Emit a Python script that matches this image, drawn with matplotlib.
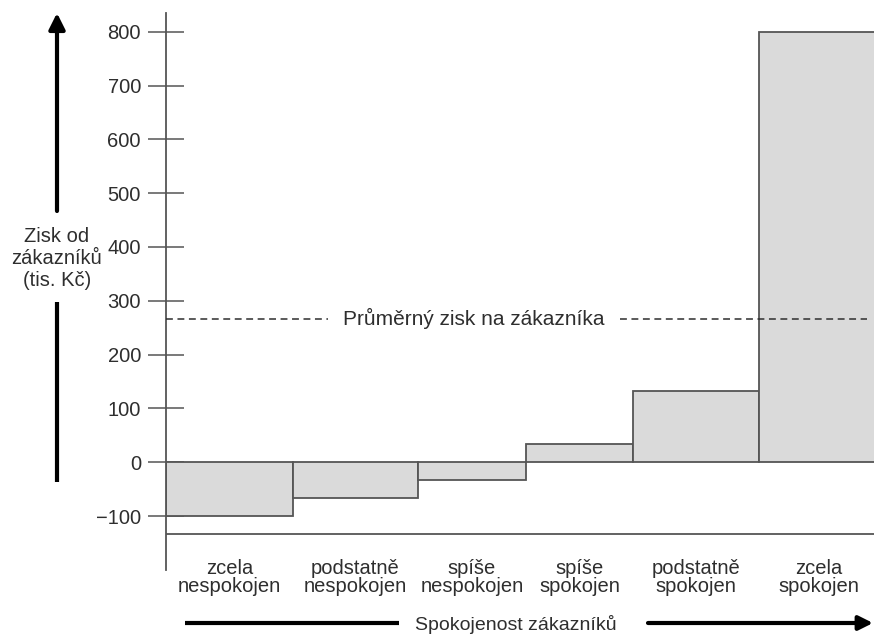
import numpy as np
import matplotlib.pyplot as plt

plt.rcParams['font.family'] = ['Liberation Sans', 'DejaVu Sans']

# profit per customer segment (thousand CZK), segment widths = share of customers
categories = ['zcela\nnespokojen', 'podstatně\nnespokojen', 'spíše\nnespokojen',
              'spíše\nspokojen', 'podstatně\nspokojen', 'zcela\nspokojen']
profits = [-100, -67, -33, 33, 133, 800]
widths = [127, 125, 108, 107, 126, 120]
avg_profit = 267
floor_line = -134
yticks = [-100, 0, 100, 200, 300, 400, 500, 600, 700, 800]

W, H = 874, 637
txt = '#2e2e2e'
edge = '#555555'

fig = plt.figure(figsize=(W / 100, H / 100), dpi=100)
fig.patch.set_facecolor('white')

# main plotting area: y axis sits at x=166 px
ax = fig.add_axes([166 / W, 0, (W - 166) / W, 1])
ax.set_xlim(0, W - 166)
ax.set_ylim(-324.8, 858.9)
ax.patch.set_alpha(0)

lefts = np.concatenate([[0], np.cumsum(widths)[:-1]])
ax.bar(lefts, profits, width=widths, align='edge', color='#dadada',
       edgecolor=edge, linewidth=1.3, zorder=2)

ax.axhline(floor_line, color=edge, lw=1.3, zorder=2)

# average profit line, broken for its caption
dash = dict(color=txt, lw=1.1, linestyle=(0, (4.5, 3)), zorder=3)
ax.axhline(avg_profit, xmin=0, xmax=162 / 708, **dash)
ax.axhline(avg_profit, xmin=454 / 708, xmax=701 / 708, **dash)
ax.text(308, avg_profit, 'Průměrný zisk na zákazníka', ha='center', va='center',
        fontsize=15, color=txt)

for x0, w, lab in zip(lefts, widths, categories):
    ax.text(x0 + w / 2, -214, lab, ha='center', va='center', fontsize=14.5,
            color=txt, linespacing=0.92)

for s in ['top', 'right', 'bottom']:
    ax.spines[s].set_visible(False)
ax.spines['left'].set_bounds(-200, 835)
ax.spines['left'].set_color(edge)
ax.spines['left'].set_linewidth(1.3)
ax.set_xticks([])
ax.set_yticks(yticks)
ax.set_yticklabels([f'{v:d}'.replace('-', '\u2212') for v in yticks])
ax.tick_params(axis='y', direction='inout', length=26, width=1.1, color=edge,
               pad=5, labelsize=14.5, labelcolor=txt)

# overlay in pixel coordinates for the axis titles and arrows
ov = fig.add_axes([0, 0, 1, 1])
ov.set_xlim(0, W)
ov.set_ylim(H, 0)
ov.axis('off')
ov.patch.set_alpha(0)

ov.text(57, 259, 'Zisk od\nzákazníků\n(tis. Kč)', ha='center', va='center',
        fontsize=14.5, color=txt, linespacing=1.2)
ov.annotate('', xy=(57, 13), xytext=(57, 211),
            arrowprops=dict(arrowstyle='-|>,head_length=0.6,head_width=0.3',
                            lw=3, color='black', mutation_scale=16,
                            shrinkA=0, shrinkB=0))
ov.plot([57, 57], [302, 482], color='black', lw=3, solid_capstyle='butt')

ov.text(516, 624, 'Spokojenost zákazníků', ha='center', va='center',
        fontsize=14, color=txt)
ov.plot([185, 399], [623, 623], color='black', lw=3, solid_capstyle='butt')
ov.annotate('', xy=(873, 623), xytext=(648, 623),
            arrowprops=dict(arrowstyle='-|>,head_length=0.6,head_width=0.3',
                            lw=3, color='black', mutation_scale=14,
                            shrinkA=0, shrinkB=0))

plt.savefig('out.png', dpi=100)
